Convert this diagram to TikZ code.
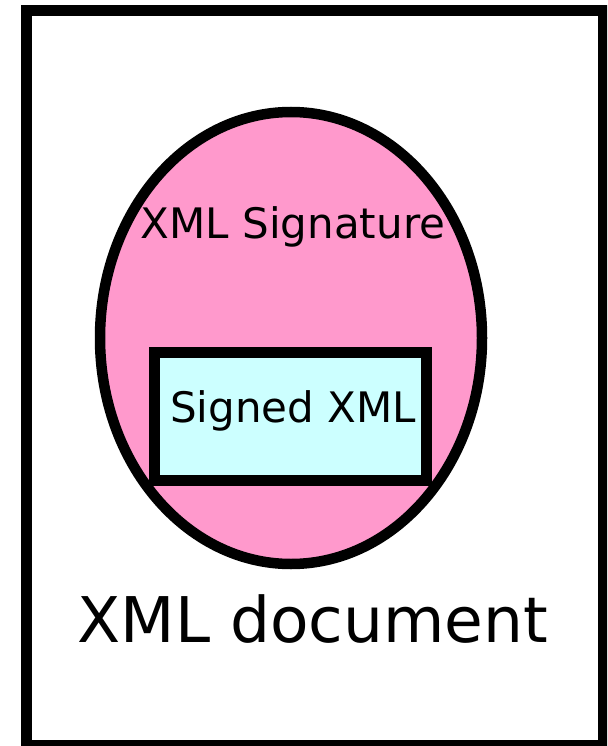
\documentclass[tikz,border=0pt]{standalone}
\usepackage{fontspec}
\setmainfont{DejaVu Sans}
\usetikzlibrary{shapes.geometric}
\definecolor{sigpink}{HTML}{FF99CC}
\definecolor{signcyan}{HTML}{CCFFFF}
\tikzset{
  thick line/.style={line width=10.5pt},
  lbl/.style={inner sep=0pt, anchor=base},
}
\begin{document}
\begin{tikzpicture}[x=1pt,y=-1pt]
\useasboundingbox (0,0) rectangle (607,746);
\clip (0,0) rectangle (607,746);
\node[draw, thick line, fill=white, minimum width=577pt, minimum height=735pt, inner sep=0pt] (doc) at (315,378) {};
\node[draw, thick line, fill=sigpink, ellipse, minimum width=382pt, minimum height=452pt, inner sep=0pt] (sig) at (291,338) {};
\node[draw, thick line, fill=signcyan, minimum width=272pt, minimum height=128pt, inner sep=0pt] (signed) at (290.5,416.5) {};
\node[lbl, font=\fontsize{42}{48}\selectfont] (sigtext) at (293,238) {XML Signature};
\node[lbl, font=\fontsize{42}{48}\selectfont] (signedtext) at (293,422) {Signed XML};
\node[lbl, font=\fontsize{63}{72}\selectfont] (doctext) at (313,642) {XML document};
\end{tikzpicture}
\end{document}
